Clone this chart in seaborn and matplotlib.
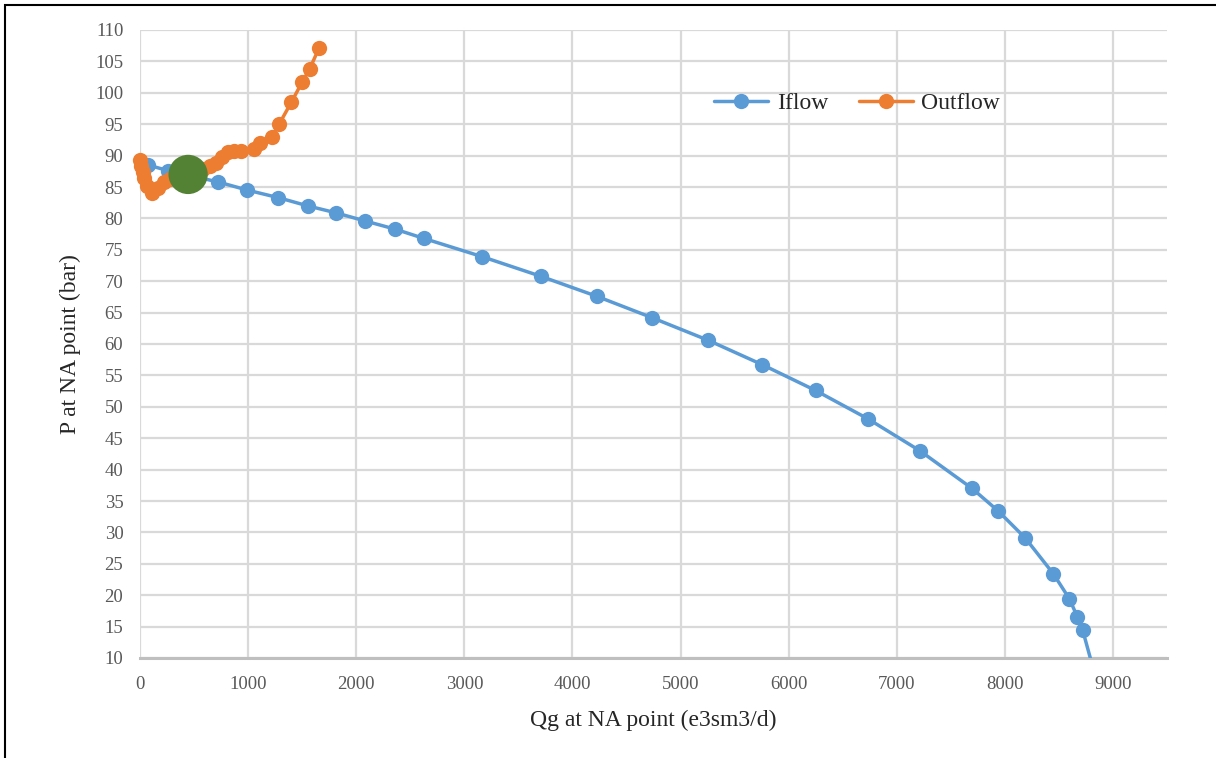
import matplotlib
matplotlib.use("Agg")
import matplotlib.pyplot as plt
import seaborn as sns
from matplotlib.lines import Line2D
from matplotlib.patches import Rectangle

# ---- data ----
inflow_q = [74, 260, 724, 994, 1281, 1550, 1810, 2080, 2358, 2628, 3166, 3705,
            4225, 4735, 5255, 5757, 6249, 6732, 7214, 7697, 7939, 8189, 8449,
            8598, 8672, 8719, 8870]
inflow_p = [88.5, 87.6, 85.8, 84.5, 83.3, 82.0, 80.9, 79.6, 78.3, 76.8, 73.9, 70.8,
            67.6, 64.2, 60.6, 56.7, 52.6, 48.1, 43.0, 37.0, 33.4, 29.1, 23.4,
            19.4, 16.5, 14.5, 5.0]

outflow_q = [0, 10, 25, 40, 65, 110, 170, 225, 280, 350, 420, 500, 580, 650, 705,
             760, 815, 870, 930, 1050, 1110, 1220, 1290, 1400, 1500, 1570, 1655]
outflow_p = [89.3, 88.3, 87.4, 86.5, 85.2, 84.1, 84.8, 85.8, 86.3, 86.7, 87.0, 87.3,
             87.8, 88.3, 88.9, 89.7, 90.5, 90.7, 90.8, 91.0, 92.0, 93.0, 95.1, 98.5,
             101.7, 103.8, 107.1]

na_q = [445]
na_p = [87.0]

series_names = ["Iflow", "Outflow"]
x_label = "Qg at NA point (e3sm3/d)"
y_label = "P at NA point (bar)"

BLUE = "#5B9BD5"
ORANGE = "#ED7D31"
GREEN = "#548235"

sns.set_style("white")
plt.rcParams["font.family"] = ["Liberation Serif", "DejaVu Serif"]

fig = plt.figure(figsize=(12.16, 7.58), dpi=100)
ax = fig.add_axes([140 / 1216, 1 - 658 / 758, (1167 - 140) / 1216, (658 - 30) / 758])

sns.lineplot(x=inflow_q, y=inflow_p, sort=False, ax=ax, color=BLUE, linewidth=2.5,
             marker="o", markersize=11, markeredgewidth=0, zorder=3)
sns.lineplot(x=outflow_q, y=outflow_p, sort=False, ax=ax, color=ORANGE, linewidth=2.5,
             marker="o", markersize=11, markeredgewidth=0, zorder=4, clip_on=False)
sns.scatterplot(x=na_q, y=na_p, ax=ax, color=GREEN, s=800, edgecolor="none", zorder=5)

ax.set_xlim(0, 9500)
ax.set_ylim(10, 110)
ax.set_xticks(range(0, 9001, 1000))
ax.set_yticks(range(10, 111, 5))
ax.grid(True, color="#d9d9d9", linewidth=1.6)
ax.set_axisbelow(True)
for s in ["top", "right", "left"]:
    ax.spines[s].set_visible(False)
ax.spines["bottom"].set_color("#bfbfbf")
ax.spines["bottom"].set_linewidth(2.2)
ax.tick_params(axis="both", length=0, labelsize=13.5, labelcolor="#595959")
ax.tick_params(axis="x", pad=13)
ax.tick_params(axis="y", pad=12)

ax.set_xlabel(x_label, fontsize=17, labelpad=12)
ax.set_ylabel(y_label, fontsize=17, labelpad=10)

handles = [Line2D([0], [0], color=BLUE, lw=2.5, marker="o", markersize=11, markeredgewidth=0),
           Line2D([0], [0], color=ORANGE, lw=2.5, marker="o", markersize=11, markeredgewidth=0)]
ax.legend(handles, series_names, loc="center", bbox_to_anchor=(857 / 1216, 1 - 103 / 758),
          bbox_transform=fig.transFigure, ncol=2, frameon=False, fontsize=17,
          handlelength=2.3, handletextpad=0.35, columnspacing=1.3)

fig.patches.append(Rectangle((5 / 1216, -0.1), 1.2, 1 - 5 / 758 + 0.1, transform=fig.transFigure,
                             fill=False, edgecolor="black", linewidth=1.5))

fig.savefig("out.png", dpi=100)
